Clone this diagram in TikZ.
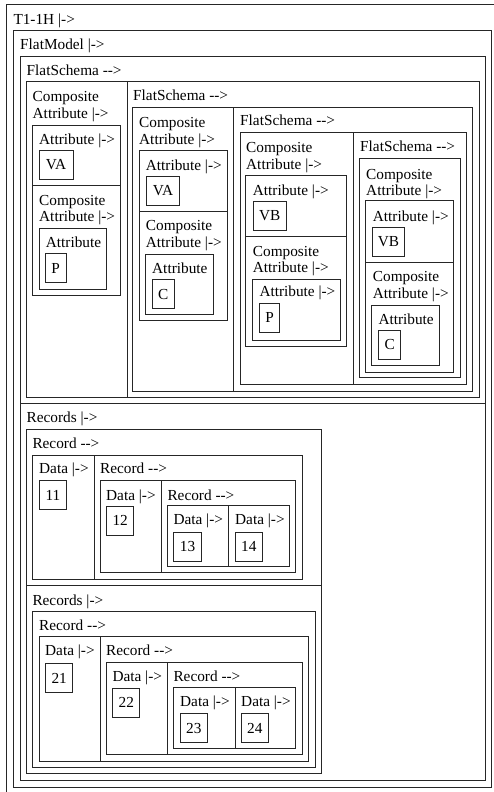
\documentclass[tikz,border=0pt]{standalone}
\usepackage{fontspec}
\setmainfont{Liberation Serif}

\begin{document}
\begin{tikzpicture}[x=1pt, y=-1pt,
    font=\fontsize{15.3}{16.7}\selectfont,
    frame/.style={draw=black!85, line width=1pt},
    lbl/.style={anchor=base west, inner sep=0pt, align=left},
    twolbl/.style={lbl, yshift=-16.7pt},
    val/.style={draw=black!85, line width=1pt, anchor=north west, inner sep=0pt, minimum height=29pt}
  ]
  \useasboundingbox (0,0) rectangle (494,792);
  \clip (0,0) rectangle (494,792);
  \fill[white] (0,0) rectangle (494,792);

  \draw[frame] (6.7,4.7) rectangle (500,800);
  \node[lbl] (t1) at (13.3,25) {T1-1H |->};
  \draw[frame] (13.3,31) rectangle (491,787);
  \node[lbl] (fm) at (20,49.5) {FlatModel |->};
  \draw[frame] (20,57) rectangle (485,780);
  \draw[frame] (20,403.3) -- (485,403.3);

  % schema part
  \node[lbl] (fs0) at (26.5,75.5) {FlatSchema -{}->};
  \draw[frame] (26,81) rectangle (479,397.5);
  \draw[frame] (127,81) -- (127,397.5);

  \node[twolbl] (ca1) at (32.5,101.5) {Composite\\Attribute |->};
  \draw[frame] (32.3,125) rectangle (120.5,295);
  \draw[frame] (32.3,185) -- (120.5,185);
  \node[lbl] (at1) at (39,144) {Attribute |->};
  \node[val, minimum width=34pt] (va1) at (38.5,150) {VA};
  \node[twolbl] (ca2) at (39,205) {Composite\\Attribute |->};
  \draw[frame] (39,228.3) rectangle (106.7,289);
  \node[lbl] (at2) at (45.7,247) {Attribute};
  \node[val, minimum width=20.5pt] (p1) at (45,253.3) {P};

  \node[lbl] (fs1) at (133,100.5) {FlatSchema -{}->};
  \draw[frame] (132.7,107.3) rectangle (472.3,391);
  \draw[frame] (233.3,107.3) -- (233.3,391);

  \node[twolbl] (ca3) at (139,127.5) {Composite\\Attribute |->};
  \draw[frame] (139.3,150) rectangle (227.7,320.7);
  \draw[frame] (139.3,211) -- (227.7,211);
  \node[lbl] (at3) at (145.7,170) {Attribute |->};
  \node[val, minimum width=33.6pt] (va2) at (145.7,176) {VA};
  \node[twolbl] (ca4) at (145.7,230.5) {Composite\\Attribute |->};
  \draw[frame] (145.7,254) rectangle (213.3,314.3);
  \node[lbl] (at4) at (152,273.3) {Attribute};
  \node[val, minimum width=22.3pt] (c1) at (151.7,279.3) {C};

  \node[lbl] (fs2) at (240,125.7) {FlatSchema -{}->};
  \draw[frame] (240,132.3) rectangle (466.7,384.2);
  \draw[frame] (353.3,132.3) -- (353.3,384.2);

  \node[twolbl] (ca5) at (246,152.7) {Composite\\Attribute |->};
  \draw[frame] (245.7,175.7) rectangle (346.7,346.7);
  \draw[frame] (245.7,236) -- (346.7,236);
  \node[lbl] (at5) at (252.7,195) {Attribute |->};
  \node[val, minimum width=33pt] (vb1) at (252.7,200.7) {VB};
  \node[twolbl] (ca6) at (252.7,256) {Composite\\Attribute |->};
  \draw[frame] (252.7,279.3) rectangle (340,340);
  \node[lbl] (at6) at (259.3,296.7) {Attribute |->};
  \node[val, minimum width=20.3pt] (p2) at (259,302.7) {P};

  \node[lbl] (fs3) at (360,151.7) {FlatSchema -{}->};
  \draw[frame] (359.3,158.3) rectangle (460,377.7);
  \node[twolbl] (ca7) at (366,179) {Composite\\Attribute |->};
  \draw[frame] (365,200.7) rectangle (453.3,372.3);
  \draw[frame] (365,262.3) -- (453.3,262.3);
  \node[lbl] (at7) at (372.7,221.7) {Attribute |->};
  \node[val, minimum width=32.6pt] (vb2) at (371.7,226.7) {VB};
  \node[twolbl] (ca8) at (372.7,281.7) {Composite\\Attribute |->};
  \draw[frame] (371.7,305) rectangle (439.3,365.7);
  \node[lbl] (at8) at (378.3,324) {Attribute};
  \node[val, minimum width=21.7pt] (c2) at (378.3,330) {C};

  % records part
  \node[lbl] (rs0) at (26.5,422.3) {Records |->};
  \draw[frame] (26,429.3) rectangle (321.7,773.3);
  \draw[frame] (26,585.5) -- (321.7,585.5);

  \node[lbl] (r1) at (32.3,448.3) {Record -{}->};
  \draw[frame] (32.3,455) rectangle (302.3,579);
  \draw[frame] (94,455) -- (94,579);
  \node[lbl] (d11) at (39,473.3) {Data |->};
  \node[val, minimum width=27pt] (n11) at (39,480) {11};
  \node[lbl] (r2) at (100,473.3) {Record -{}->};
  \draw[frame] (100,480) rectangle (295.7,572.7);
  \draw[frame] (161.3,480) -- (161.3,572.7);
  \node[lbl] (d12) at (106,500) {Data |->};
  \node[val, minimum width=27.3pt] (n12) at (106,505.7) {12};
  \node[lbl] (r3) at (167.3,500) {Record -{}->};
  \draw[frame] (167.3,505.7) rectangle (289.7,566);
  \draw[frame] (228.7,505.7) -- (228.7,566);
  \node[lbl] (d13) at (173.3,524) {Data |->};
  \node[val, minimum width=27.4pt] (n13) at (173.3,531.7) {13};
  \node[lbl] (d14) at (235,524) {Data |->};
  \node[val, minimum width=26.7pt] (n14) at (235,531.7) {14};

  \node[lbl] (rs1) at (32.3,605) {Records |->};
  \draw[frame] (32.3,611.7) rectangle (315,767.7);
  \node[lbl] (r4) at (39,630) {Record -{}->};
  \draw[frame] (39,636.7) rectangle (308.3,761.7);
  \draw[frame] (100,636.7) -- (100,761.7);
  \node[lbl] (d21) at (45,655) {Data |->};
  \node[val, minimum width=27.3pt] (n21) at (45,663.3) {21};
  \node[lbl] (r5) at (106,655) {Record -{}->};
  \draw[frame] (106,662.3) rectangle (302.3,754.3);
  \draw[frame] (167.7,662.3) -- (167.7,754.3);
  \node[lbl] (d22) at (112.3,681.7) {Data |->};
  \node[val, minimum width=27pt] (n22) at (112.3,687.7) {22};
  \node[lbl] (r6) at (173.3,681.7) {Record -{}->};
  \draw[frame] (173.3,687.3) rectangle (295.7,748.3);
  \draw[frame] (235,687.3) -- (235,748.3);
  \node[lbl] (d23) at (180,706.7) {Data |->};
  \node[val, minimum width=26.7pt] (n23) at (180,713.3) {23};
  \node[lbl] (d24) at (241,706.7) {Data |->};
  \node[val, minimum width=26.7pt] (n24) at (241,713.3) {24};
\end{tikzpicture}
\end{document}
